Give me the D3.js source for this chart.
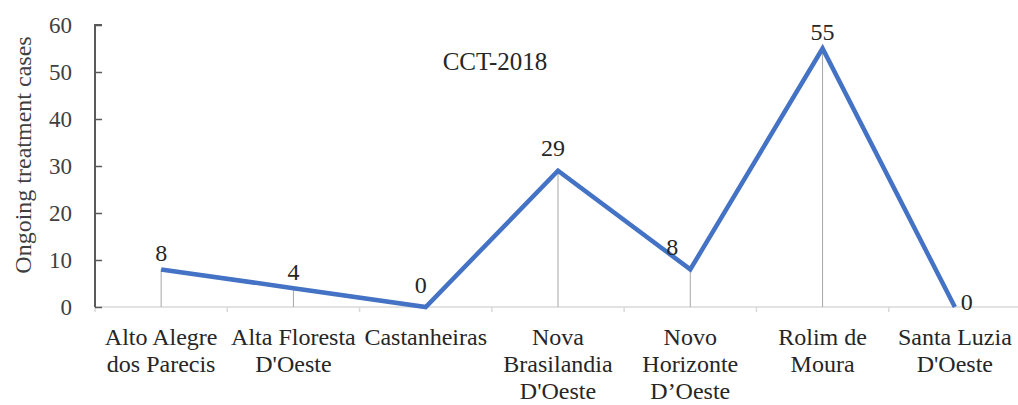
<!DOCTYPE html>
<html><head><meta charset="utf-8">
<script src="https://cdn.jsdelivr.net/npm/d3@7"></script>
<style>body{margin:0;background:#fff}svg{display:block}</style>
</head><body>
<svg id="c" width="1018" height="405"></svg>
<script>
const categories = [["Alto Alegre","dos Parecis"],["Alta Floresta","D'Oeste"],["Castanheiras"],["Nova","Brasilandia","D'Oeste"],["Novo","Horizonte","D\u2019Oeste"],["Rolim de","Moura"],["Santa Luzia","D'Oeste"]];
const values = [8,4,0,29,8,55,0];
const yTicks = [0,10,20,30,40,50,60];
const title = "CCT-2018";
const yLabel = "Ongoing treatment cases";
// label offsets (dx, dy) for data labels
const labelOffsets = [[0,-8],[0,-8],[-5,-14],[-5,-15],[-18,-14],[0,-9],[12,3]];

const FONT = '"Liberation Serif"';
const svg = d3.select("#c");
const m = {l:95, r:1021, t:25, b:307};
const x = d3.scaleBand().domain(d3.range(categories.length)).range([m.l, m.r]).paddingInner(0).paddingOuter(0);
const y = d3.scaleLinear().domain([0,60]).range([m.b, m.t]);
const cx = i => x(i) + x.bandwidth()/2;

// x axis line
svg.append("line").attr("x1",m.l).attr("x2",1018).attr("y1",m.b).attr("y2",m.b).attr("stroke","#d9d9d9").attr("stroke-width",1.5);
// x ticks at boundaries
d3.range(categories.length+1).forEach(i=>{
  const xx = m.l + i*x.bandwidth();
  svg.append("line").attr("x1",xx).attr("x2",xx).attr("y1",m.b).attr("y2",m.b+5).attr("stroke","#d9d9d9").attr("stroke-width",1.5);
});
// drop lines
svg.selectAll(".drop").data(values).join("line").attr("class","drop")
  .attr("x1",(d,i)=>cx(i)).attr("x2",(d,i)=>cx(i)).attr("y1",d=>y(d)).attr("y2",m.b)
  .attr("stroke","#a6a6a6").attr("stroke-width",1);

// y axis
const yAxis = d3.axisRight(y).tickValues(yTicks).tickSize(7).tickFormat("");
const ya = svg.append("g").attr("transform",`translate(${m.l},0)`).call(yAxis);
ya.select(".domain").attr("stroke","#595959").attr("stroke-width",2).attr("d",`M7,${m.t}H0V${m.b}`);
ya.selectAll(".tick line").attr("stroke","#595959").attr("stroke-width",1.5);
svg.selectAll(".ylab").data(yTicks).join("text").attr("class","ylab")
  .attr("x",m.l-23).attr("y",d=>y(d)).attr("dy","0.35em").attr("text-anchor","end")
  .style("font-family",FONT).style("font-size","23px").style("fill","#404040").text(d=>d);

// y label
svg.append("text").attr("transform",`translate(31,155) rotate(-90)`).attr("text-anchor","middle")
  .style("font-family",FONT).style("font-size","24px").style("fill","#404040").text(yLabel);

// line
svg.append("path").datum(values).attr("fill","none").attr("stroke","#4472c4").attr("stroke-width",4.5).attr("stroke-linejoin","miter")
  .attr("d", d3.line().x((d,i)=>cx(i)).y(d=>y(d)));

// data labels
svg.selectAll(".dl").data(values).join("text").attr("class","dl")
  .attr("x",(d,i)=>cx(i)+labelOffsets[i][0]).attr("y",(d,i)=>y(d)+labelOffsets[i][1])
  .attr("text-anchor","middle").style("font-family",FONT).style("font-size","24px").style("fill","#262626").text(d=>d);

// category labels
categories.forEach((lines,i)=>{
  const t = svg.append("text").attr("x",cx(i)).attr("y",345).attr("text-anchor","middle")
    .style("font-family",FONT).style("font-size","24px").style("fill","#262626");
  lines.forEach((s,j)=>t.append("tspan").attr("x",cx(i)).attr("dy", j===0?0:27).text(s));
});

// title
svg.append("text").attr("x",495).attr("y",70).attr("text-anchor","middle")
  .style("font-family",FONT).style("font-size","25px").style("fill","#262626").text(title);
</script>
</body></html>
